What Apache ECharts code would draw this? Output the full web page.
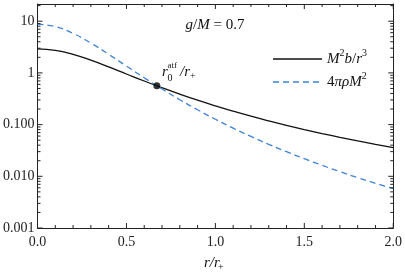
<!DOCTYPE html>
<html><head><meta charset="utf-8">
<script src="https://cdn.jsdelivr.net/npm/echarts@6/dist/echarts.min.js"></script>
<style>html,body{margin:0;padding:0;background:#fff}#c{width:405px;height:278px}</style>
</head><body><div id="c"></div>
<script>
const xValues=[0,0.1,0.2,0.3,0.4,0.5,0.6,0.7,0.8,0.9,1.0,1.1,1.2,1.3,1.4,1.5,1.6,1.7,1.8,1.9,2.0];
const bOverR3=[2.915,2.732,2.282,1.761,1.304,0.9518,0.6966,0.5156,0.3876,0.2961,0.2300,0.1814,0.1452,0.1177,0.09657,0.08011,0.06712,0.05674,0.04836,0.04154,0.03592];
const rhoM2=[8.746,7.847,5.814,3.776,2.288,1.354,0.8046,0.4874,0.3028,0.1934,0.1269,0.08547,0.05894,0.04155,0.02988,0.02188,0.01629,0.01232,0.009438,0.007323,0.005749];
const crossPoint=[0.671,0.561];
const xTickLabels=['0.0','0.5','1.0','1.5','2.0'];
const yTickValues=[0.001,0.01,0.1,1,10];
const yTickLabels=['0.001','0.010','0.100','1','10'];
const Y_MIN=0.001, Y_MAX=21.5;
// tick marks (axis decoration): [value, isMajor]
const yTickMarks=[];
yTickValues.forEach(d=>{yTickMarks.push([d,1]);for(let k=2;k<=9;k++){if(d*k<Y_MAX)yTickMarks.push([d*k,0]);}});
const xTickMarks=[];
for(let i=0;i<=20;i++){xTickMarks.push([i/10,i%5===0?1:0]);}

const FONT='Liberation Serif';
const frame='#222';
const chart=echarts.init(document.getElementById('c'),null,{renderer:'canvas'});
const xAx=(pos,labels)=>({type:'value',position:pos,min:0,max:2,interval:0.5,
  axisLine:{show:true,onZero:false,lineStyle:{color:frame,width:1}},
  axisTick:{show:false},
  splitLine:{show:false},
  axisLabel:{show:labels,margin:7,fontFamily:FONT,fontSize:14,color:'#222',
    formatter:v=>xTickLabels[Math.round(v/0.5)]}});
const yAx=(pos,labels)=>({type:'log',logBase:10,position:pos,min:Y_MIN,max:Y_MAX,
  axisLine:{show:true,onZero:false,lineStyle:{color:frame,width:1}},
  axisTick:{show:false},
  splitLine:{show:false},
  axisLabel:{show:labels,margin:3,fontFamily:FONT,fontSize:14,color:'#222',
    formatter:v=>{for(let i=0;i<yTickValues.length;i++){if(Math.abs(Math.log10(v)-Math.log10(yTickValues[i]))<1e-6)return yTickLabels[i];}return '';}}});

function seg(x1,y1,x2,y2){return {type:'line',shape:{x1:x1,y1:y1,x2:x2,y2:y2},style:{stroke:frame,lineWidth:1}};}

const option={
  animation:false,
  grid:{left:35,right:9,top:4,bottom:50,containLabel:false},
  xAxis:[xAx('bottom',true),xAx('top',false)],
  yAxis:[yAx('left',true),yAx('right',false)],
  series:[
    {name:'bl',type:'line',data:xValues.map((x,i)=>[x,bOverR3[i]]),smooth:true,symbol:'none',
      lineStyle:{color:'#111',width:1.3},z:3},
    {name:'rho',type:'line',data:xValues.map((x,i)=>[x,rhoM2[i]]),smooth:true,symbol:'none',
      lineStyle:{color:'#3f83d8',width:1.3,type:[6,4]},z:3},
    {name:'pt',type:'scatter',data:[crossPoint],symbolSize:7,itemStyle:{color:'#000'},z:5},
    {name:'yticks',type:'custom',data:yTickMarks,silent:true,clip:false,z:4,
      renderItem:(params,api)=>{const v=api.value(0);const len=api.value(1)?5:3;
        const l=api.coord([0,v]);const r=api.coord([2,v]);
        return {type:'group',children:[seg(l[0],l[1],l[0]+len,l[1]),seg(r[0]-len,r[1],r[0],r[1])]};},
      encode:{x:-1,y:0}},
    {name:'xticks',type:'custom',data:xTickMarks,silent:true,clip:false,z:4,
      renderItem:(params,api)=>{const v=api.value(0);const len=api.value(1)?5:3;
        const b=api.coord([v,Y_MIN]);const t=api.coord([v,Y_MAX]);
        return {type:'group',children:[seg(b[0],b[1],b[0],b[1]-len),seg(t[0],t[1],t[0],t[1]+len)]};},
      encode:{x:0,y:-1}}
  ],
  graphic:[
    {type:'text',x:215,y:25,style:{text:'{i|g}/{i|M} = 0.7',align:'center',verticalAlign:'middle',
      font:'15px '+FONT,fill:'#111',rich:{i:{fontStyle:'italic',fontFamily:FONT,fontSize:15}}}},
    {type:'text',x:162,y:72,style:{text:'r',font:'italic 15px '+FONT,fill:'#111',verticalAlign:'middle'}},
    {type:'text',x:167.5,y:65.5,style:{text:'atf',font:'9px '+FONT,fill:'#111',verticalAlign:'middle'}},
    {type:'text',x:167.5,y:78,style:{text:'0',font:'10px '+FONT,fill:'#111',verticalAlign:'middle'}},
    {type:'text',x:180,y:72,style:{text:'/r',font:'italic 15px '+FONT,fill:'#111',verticalAlign:'middle'}},
    {type:'text',x:190,y:76,style:{text:'+',font:'10px '+FONT,fill:'#111',verticalAlign:'middle'}},
    {type:'text',x:204,y:263,style:{text:'r/r',font:'italic 15px '+FONT,fill:'#111',verticalAlign:'middle'}},
    {type:'text',x:218,y:267,style:{text:'+',font:'10px '+FONT,fill:'#111',verticalAlign:'middle'}},
    // legend
    {type:'line',shape:{x1:273,y1:59,x2:322,y2:59},style:{stroke:'#111',lineWidth:1.3}},
    {type:'line',shape:{x1:273,y1:82,x2:322,y2:82},style:{stroke:'#3f83d8',lineWidth:1.3,lineDash:[6,4]}},
    {type:'text',x:327,y:59,style:{text:'{i|M}{s|2}{i|b}/{i|r}{s|3}',verticalAlign:'middle',font:'15px '+FONT,fill:'#111',
      rich:{i:{fontStyle:'italic',fontFamily:FONT,fontSize:15},s:{fontFamily:FONT,fontSize:10,verticalAlign:'top',lineHeight:21}}}},
    {type:'text',x:327,y:82,style:{text:'4{i|πρM}{s|2}',verticalAlign:'middle',font:'15px '+FONT,fill:'#111',
      rich:{i:{fontStyle:'italic',fontFamily:FONT,fontSize:15},s:{fontFamily:FONT,fontSize:10,verticalAlign:'top',lineHeight:21}}}}
  ]
};
chart.setOption(option);
</script></body></html>
